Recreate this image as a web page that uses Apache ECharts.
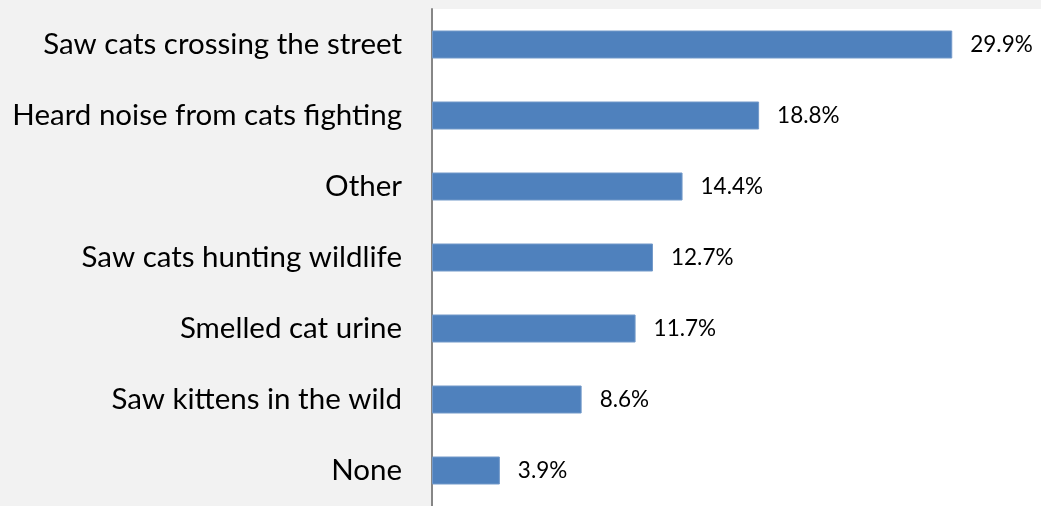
<!DOCTYPE html>
<html>
<head>
<meta charset="utf-8">
<script src="https://cdn.jsdelivr.net/npm/echarts@6/dist/echarts.min.js"></script>
<style>
  html, body { margin: 0; padding: 0; background: #f2f2f2; }
  #chart { width: 1041px; height: 506px; }
</style>
</head>
<body>
<div id="chart"></div>
<script>
// Cat sightings survey: share of responses per observation type
const categories = [
  'Saw cats crossing the street',
  'Heard noise from cats fighting',
  'Other',
  'Saw cats hunting wildlife',
  'Smelled cat urine',
  'Saw kittens in the wild',
  'None'
];
const percentages = [29.9, 18.8, 14.4, 12.7, 11.7, 8.6, 3.9];

const chart = echarts.init(document.getElementById('chart'));
chart.setOption({
  backgroundColor: '#f2f2f2',
  animation: false,
  grid: {
    left: 432,
    top: 9,
    width: 612,
    height: 504,
    show: true,
    backgroundColor: '#ffffff',
    borderWidth: 0
  },
  xAxis: {
    type: 'value',
    min: 0,
    max: 35,
    show: false
  },
  yAxis: {
    type: 'category',
    data: categories,
    inverse: true,
    axisLine: { show: true, lineStyle: { color: '#868686', width: 2 } },
    axisTick: { show: false },
    axisLabel: {
      margin: 30,
      color: '#000',
      fontFamily: 'Lato',
      fontSize: 29.5
    }
  },
  series: [{
    type: 'bar',
    data: percentages,
    barWidth: 28,
    itemStyle: { color: '#4f81bd', borderColor: '#7399c9', borderWidth: 1 },
    label: {
      show: true,
      position: 'right',
      distance: 18,
      color: '#000',
      fontFamily: 'Lato',
      fontSize: 22.5,
      formatter: p => p.value.toFixed(1) + '%'
    }
  }]
});
</script>
</body>
</html>
